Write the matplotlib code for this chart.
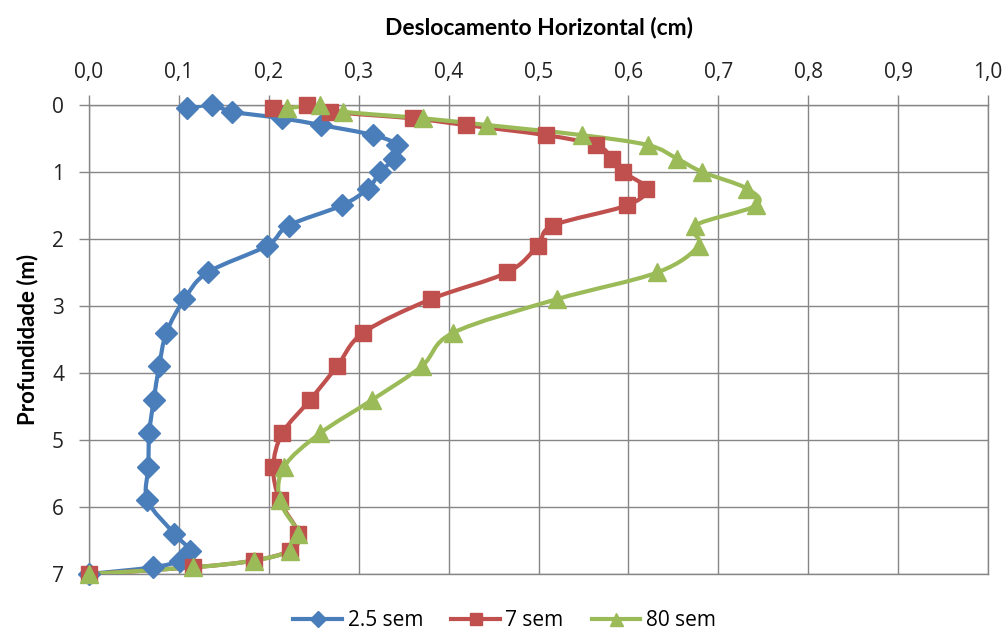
import numpy as np
import matplotlib
matplotlib.use('Agg')
import matplotlib.pyplot as plt
from matplotlib.path import Path
from matplotlib.patches import PathPatch
from matplotlib.lines import Line2D

plt.rcParams['font.family'] = ['Lato', 'DejaVu Sans']

# ------------------ dados -------------------------------------
profundidade = [0.05, 0.0, 0.1, 0.2, 0.3, 0.45, 0.6, 0.8, 1.0, 1.25, 1.5, 1.8, 2.1,
                2.5, 2.9, 3.4, 3.9, 4.4, 4.9, 5.4, 5.9, 6.4, 6.65, 6.8, 6.9, 7.0]

desl_2_5 = [0.109, 0.137, 0.159, 0.215, 0.258, 0.316, 0.343, 0.339, 0.324, 0.310,
            0.281, 0.222, 0.198, 0.132, 0.106, 0.086, 0.078, 0.072, 0.067, 0.066,
            0.065, 0.095, 0.112, 0.101, 0.071, 0.0]
desl_7 = [0.205, 0.242, 0.268, 0.360, 0.419, 0.508, 0.564, 0.582, 0.594, 0.620,
          0.598, 0.516, 0.499, 0.465, 0.380, 0.305, 0.276, 0.246, 0.215, 0.205,
          0.212, 0.233, 0.223, 0.183, 0.116, 0.0]
desl_80 = [0.220, 0.257, 0.283, 0.372, 0.443, 0.548, 0.622, 0.654, 0.682, 0.732,
           0.742, 0.674, 0.678, 0.632, 0.520, 0.405, 0.370, 0.315, 0.257, 0.217,
           0.212, 0.233, 0.224, 0.183, 0.116, 0.0]

series = [
    ('2.5 sem', desl_2_5, '#4A7EBB', 'D', 11.5),
    ('7 sem', desl_7, '#C0504D', 's', 12),
    ('80 sem', desl_80, '#9BBB59', '^', 13),
]

tick_font = ['Open Sans', 'DejaVu Sans']


def smooth_path(x, y, t=1/6):
    '''linha suavizada tipo Excel (Catmull-Rom -> Bezier)'''
    pts = np.column_stack([x, y])
    n = len(pts)
    verts = [pts[0]]
    codes = [Path.MOVETO]
    for i in range(n - 1):
        p0 = pts[i - 1] if i > 0 else pts[i]
        p1 = pts[i]
        p2 = pts[i + 1]
        p3 = pts[i + 2] if i + 2 < n else pts[i + 1]
        c1 = p1 + (p2 - p0) * t
        c2 = p2 - (p3 - p1) * t
        verts += [c1, c2, p2]
        codes += [Path.CURVE4] * 3
    return Path(verts, codes)


fig = plt.figure(figsize=(10.07, 6.33), dpi=100)
ax = fig.add_axes([0.0884, 0.0932, 0.8928, 0.741])

handles = []
for label, vals, color, mk, ms in series:
    patch = PathPatch(smooth_path(vals, profundidade), facecolor='none',
                      edgecolor=color, lw=3.0, zorder=3, capstyle='round',
                      joinstyle='round')
    ax.add_patch(patch)
    ax.plot(vals, profundidade, linestyle='none', marker=mk, ms=ms,
            color=color, mec=color, zorder=4, clip_on=False)
    handles.append(Line2D([], [], color=color, lw=3.0, marker=mk, ms=ms * 0.72,
                          label=label))

ax.set_xlim(0, 1.0)
ax.set_ylim(7, 0)
ax.set_xticks(np.arange(0, 1.01, 0.1))
ax.set_xticklabels([f'{v:.1f}'.replace('.', ',') for v in np.arange(0, 1.01, 0.1)])
ax.set_yticks(range(0, 8))
ax.xaxis.tick_top()
ax.xaxis.set_label_position('top')
ax.tick_params(axis='both', labelsize=15, colors='#868686', labelcolor='#222222',
               length=7, width=1, direction='out')
ax.tick_params(axis='x', pad=9)
ax.tick_params(axis='y', pad=11)
for lab in ax.get_xticklabels() + ax.get_yticklabels():
    lab.set_family(tick_font)

ax.grid(True, color='#868686', lw=1)
ax.set_axisbelow(True)
for s in ax.spines.values():
    s.set_color('#868686')
    s.set_linewidth(1)

ax.set_xlabel('Deslocamento Horizontal (cm)', fontsize=16.5, fontweight='bold',
              labelpad=20)
ax.set_ylabel('Profundidade (m)', fontsize=16, fontweight='bold', labelpad=10)

fig.legend(handles=handles, loc='center', bbox_to_anchor=(0.501, 0.019), ncol=3,
           frameon=False, prop={'family': tick_font, 'size': 15},
           handlelength=2.35, columnspacing=1.35, handletextpad=0.25)

fig.savefig('out.png', dpi=100)
